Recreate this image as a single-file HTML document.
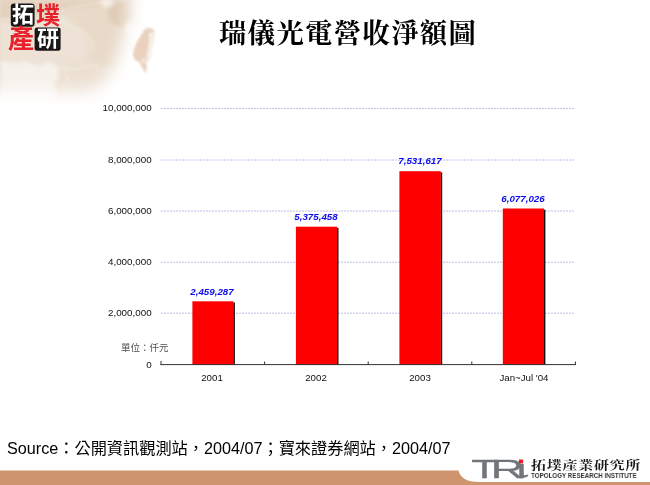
<!DOCTYPE html>
<html lang="zh-Hant">
<head>
<meta charset="utf-8">
<title>瑞儀光電營收淨額圖</title>
<style>
  html, body { margin: 0; padding: 0; background: #fff; }
  body { width: 650px; height: 485px; position: relative; overflow: hidden;
         font-family: "Liberation Sans", "Noto Sans CJK TC", sans-serif; }
  .abs { position: absolute; white-space: nowrap; line-height: 1; will-change: transform; }
  #bg { position: absolute; left: 0; top: 0; width: 650px; height: 485px; will-change: transform; }
  #title { left: 219.2px; top: 20.8px;
           font-family: "Liberation Serif", "Noto Serif CJK TC", "Noto Serif CJK SC", serif;
           font-weight: 700; font-size: 27.4px; letter-spacing: 1.3px; color: #000; }
  .ylab { width: 151.6px; left: 0; text-align: right; font-size: 9.8px; color: #111; }
  .xlab { width: 104px; text-align: center; font-size: 9.7px; color: #111; top: 373.3px; }
  .val { width: 104px; text-align: center; font-size: 9.75px; font-weight: bold; font-style: italic; color: #0c0cee; }
  #unit { left: 120.8px; top: 343px; font-size: 9.5px; color: #505050; }
  #source { left: 6.8px; top: 440px; font-size: 16.2px; color: #000; }
  .logo { font-family: "Liberation Sans", "Noto Sans CJK TC", sans-serif; font-weight: 700; font-size: 22px; }
  #tricjk { left: 530.8px; top: 460.4px; font-family: "Liberation Serif", "Noto Serif CJK TC", "Noto Serif CJK SC", serif; font-weight: 700; font-size: 12px; letter-spacing: 0.6px; color: #1a1a1a; transform: scaleX(1.25); transform-origin: 0 0; }
  #trien { left: 530.9px; top: 471.9px; font-size: 7.6px; font-weight: bold; color: #333; letter-spacing: 0; transform: scaleX(0.82); transform-origin: 0 0; }
</style>
</head>
<body>
<svg id="bg" width="650" height="485" viewBox="0 0 650 485">
  <defs>
    <filter id="blurM" x="-50%" y="-50%" width="200%" height="200%"><feGaussianBlur stdDeviation="8"/></filter>
    <mask id="mapmask" maskUnits="userSpaceOnUse" x="0" y="0" width="240" height="130">
      <path d="M-80 -80 H134 L128 22 L119 52 L108 78 L90 91 H-80 Z" fill="#fff" filter="url(#blurM)"/>
    </mask>
    <filter id="blur2"><feGaussianBlur stdDeviation="2"/></filter>
    <filter id="blur1"><feGaussianBlur stdDeviation="0.8"/></filter>
  </defs>

  <!-- map background -->
  <g mask="url(#mapmask)">
    <rect x="0" y="0" width="240" height="130" fill="#eadccc"/>
    <!-- lighter / darker areas -->
    <g filter="url(#blur2)">
      <path d="M0 0 H112 L104 6 L80 8 L62 12 L40 16 L0 20 Z" fill="#e3d2bf"/>
      <path d="M0 24 L40 20 L64 14 L72 24 L84 34 L90 48 L86 60 L70 66 L56 62 L44 68 L30 64 L14 66 L0 62 Z" fill="#ede2d5"/>
      <path d="M0 61 L14 64 L26 61 L38 66 L48 62 L58 66 L60 76 L54 86 L58 96 L40 104 L0 104 Z" fill="#f6f1ea"/>
      <path d="M60 64 L84 60 L104 64 L118 60 L120 80 L100 96 L62 100 L56 88 L62 76 Z" fill="#ece0d2"/>
      <path d="M104 6 L130 0 H170 L160 30 L140 56 L118 70 L100 66 L94 48 L88 32 L76 22 L70 12 Z" fill="#e8d9c8"/>
      <path d="M106 4 L128 0 H150 L142 22 L126 30 L110 22 Z" fill="#dfcbb5"/>
      <path d="M100 0 L114 0 L112 6 L104 8 Z" fill="#f6f0e8"/>
      <path d="M128 22 L138 26 L132 36 L124 30 Z" fill="#f3ebe2"/>
    </g>
    <!-- thin borders / rivers -->
    <g fill="none" stroke="#f8f3ec" stroke-width="0.8" filter="url(#blur1)" opacity="0.9">
      <path d="M0 20 C20 17 40 18 64 10 S95 5 108 1"/>
      <path d="M58 20 C66 24 78 28 86 34 S92 44 94 50"/>
      <path d="M0 62 C14 66 22 62 34 66 S52 62 66 68 S84 60 98 68"/>
      <path d="M28 66 L30 84 M44 70 L50 88 M62 66 L70 84"/>
    </g>
  </g>
  <!-- Taiwan -->
  <g filter="url(#blur1)" opacity="0.95">
    <path d="M146.5 28 L152 28.5 L154.5 31 L154 38 L152.5 46 L151 54 L149 60 L146 62 L146.8 67 L145.5 73.5 L143 69 L139.5 62.5 L134.5 59.5 L133 55 L134 49 L137 42 L141 35 L144 30 Z" fill="#e8cfbb"/>
    <path d="M148.5 33.5 L153.8 32 L153.2 40 L151.4 52 L148.6 59.5 L146 59 L148 49 L149.4 40 Z" fill="#f7efe7"/>
    <path d="M140 60 L145 58 L146 62 L143 64 Z" fill="#f3e6da"/>
  </g>

  <!-- logo boxes -->
  <rect x="10.8" y="3.4" width="23.8" height="23.4" rx="3.2" fill="#1a1718"/>
  <rect x="34.6" y="27.6" width="26" height="23.2" rx="2.5" fill="#1a1718"/>

  <!-- gridlines -->
  <g stroke="#bebee8" stroke-width="1" stroke-dasharray="2 1">
    <line x1="161" y1="108.6" x2="575" y2="108.6"/>
    <line x1="161" y1="160.0" x2="575" y2="160.0"/>
    <line x1="161" y1="211.0" x2="575" y2="211.0"/>
    <line x1="161" y1="262.2" x2="575" y2="262.2"/>
    <line x1="161" y1="313.2" x2="575" y2="313.2"/>
  </g>
  <!-- bars -->
  <g>
    <rect x="233.2" y="302.5" width="1.7" height="62.4" fill="#111"/>
    <rect x="192.4" y="301.3" width="41.1" height="63.6" fill="#ff0000"/>
    <rect x="336.8" y="227.9" width="1.7" height="137.0" fill="#111"/>
    <rect x="295.9" y="226.7" width="41.2" height="138.2" fill="#ff0000"/>
    <rect x="440.5" y="172.4" width="1.7" height="192.5" fill="#111"/>
    <rect x="399.4" y="171.2" width="41.4" height="193.7" fill="#ff0000"/>
    <rect x="543.7" y="209.7" width="1.7" height="155.2" fill="#111"/>
    <rect x="502.8" y="208.5" width="41.2" height="156.4" fill="#ff0000"/>
  </g>
  <!-- axis -->
  <g stroke="#333" stroke-width="1" fill="none">
    <line x1="160.5" y1="364.6" x2="576" y2="364.6"/>
    <line x1="161" y1="361" x2="161" y2="365"/>
    <line x1="264.6" y1="361.5" x2="264.6" y2="365"/>
    <line x1="368.2" y1="361.5" x2="368.2" y2="365"/>
    <line x1="471.8" y1="361.5" x2="471.8" y2="365"/>
    <line x1="575.4" y1="361.5" x2="575.4" y2="365"/>
  </g>

  <!-- TRI logo -->
  <g font-family="'Liberation Sans', sans-serif" font-size="25.5" fill="#72767a" stroke="#72767a" stroke-width="0.3">
    <text transform="translate(471.2,477.8) scale(1.7,1)" x="0" y="0">T</text>
    <text transform="translate(490.4,477.8) scale(1.83,1)" x="0" y="0">R</text>
    <text transform="translate(515.5,477.8) scale(1.7,1)" x="0" y="0">ı</text>
  </g>
  <rect x="518.9" y="459.5" width="4.2" height="3.8" fill="#ee1c24"/>
  <path d="M522.4 472.5 C522.8 475.6 524.8 476 528.4 474.2 L527.6 476.6 C525 478 522 477.8 520 477.8 Z" fill="#72767a"/>

  <!-- bottom bar -->
  <path d="M0 470.4 H458.5 C460 477 466 482 479 482 H650 V485 H0 Z" fill="#ce946d"/>
</svg>

<div class="abs logo" style="left:11.6px;top:4px;color:#fff">拓</div>
<div class="abs logo" style="left:35.8px;top:3.6px;font-size:24px;color:#e8202a">墣</div>
<div class="abs logo" style="left:8.2px;top:26px;font-size:26px;color:#e8202a">產</div>
<div class="abs logo" style="left:36.8px;top:28.2px;color:#fff">研</div>
<div id="title" class="abs">瑞儀光電營收淨額圖</div>

<div class="abs ylab" style="top:103px">10,000,000</div>
<div class="abs ylab" style="top:155px">8,000,000</div>
<div class="abs ylab" style="top:206px">6,000,000</div>
<div class="abs ylab" style="top:257px">4,000,000</div>
<div class="abs ylab" style="top:308.2px">2,000,000</div>
<div class="abs ylab" style="top:360px">0</div>

<div class="abs val" style="left:160.2px;top:286.5px">2,459,287</div>
<div class="abs val" style="left:264.2px;top:212px">5,375,458</div>
<div class="abs val" style="left:367.6px;top:156.4px">7,531,617</div>
<div class="abs val" style="left:471.4px;top:193.8px">6,077,026</div>

<div class="abs xlab" style="left:160px">2001</div>
<div class="abs xlab" style="left:264px">2002</div>
<div class="abs xlab" style="left:368px">2003</div>
<div class="abs xlab" style="left:472px">Jan~Jul '04</div>

<div id="unit" class="abs">單位：仟元</div>
<div id="source" class="abs">Source：公開資訊觀測站，2004/07；寶來證券網站，2004/07</div>
<div id="tricjk" class="abs">拓墣產業研究所</div>
<div id="trien" class="abs">TOPOLOGY RESEARCH INSTITUTE</div>
</body>
</html>
